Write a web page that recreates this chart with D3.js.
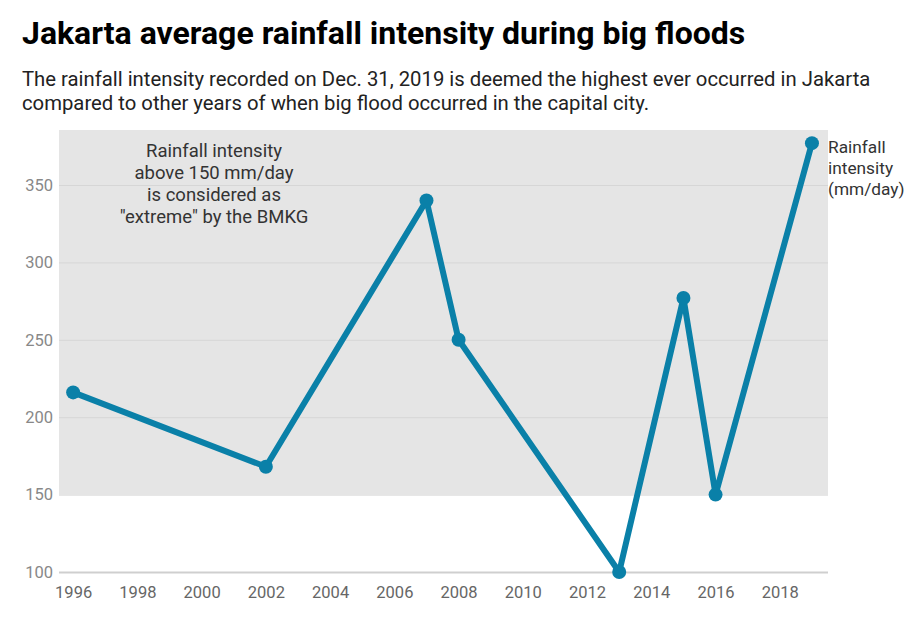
<!DOCTYPE html>
<html><head><meta charset="utf-8">
<script src="https://cdn.jsdelivr.net/npm/d3@7"></script>
<style>
body{margin:0;background:#fff;font-family:Roboto,"Noto Sans",sans-serif;}
</style></head>
<body>
<svg id="c" width="918" height="623"></svg>
<script>
const years = [1996, 2002, 2007, 2008, 2013, 2015, 2016, 2019];
const intensity = [216, 168, 340, 250, 100, 277, 150, 377];
const yTicks = [100, 150, 200, 250, 300, 350];
const xTicks = [1996, 1998, 2000, 2002, 2004, 2006, 2008, 2010, 2012, 2014, 2016, 2018];
const extremeThreshold = 150;
const title = "Jakarta average rainfall intensity during big floods";
const subtitle = ["The rainfall intensity recorded on Dec. 31, 2019 is deemed the highest ever occurred in Jakarta",
  "compared to other years of when big flood occurred in the capital city."];
const note = ["Rainfall intensity", "above 150 mm/day", "is considered as", "\"extreme\" by the BMKG"];
const seriesLabel = ["Rainfall", "intensity", "(mm/day)"];

const svg = d3.select("#c");
const mLeft = 59, mRight = 828, mTop = 130, mBottom = 572;
const x = d3.scaleLinear().domain([1995.56, 2019.5]).range([mLeft, mRight]);
const y = d3.scaleLinear().domain([100, 385.5]).range([mBottom, mTop]);

svg.append("text").attr("x", 22).attr("y", 44).attr("font-size", 32).attr("font-weight", 700)
  .attr("fill", "#000").text(title);
subtitle.forEach((s, i) => svg.append("text").attr("x", 22).attr("y", 86 + i * 24)
  .attr("font-size", 20.3).attr("fill", "#222").text(s));

// extreme band
svg.append("rect").attr("x", mLeft).attr("y", mTop).attr("width", mRight - mLeft)
  .attr("height", y(extremeThreshold) - mTop).attr("fill", "#e5e5e5");

// grid
const gy = svg.append("g").attr("transform", `translate(${mLeft},0)`)
  .call(d3.axisLeft(y).tickValues(yTicks).tickSize(-(mRight - mLeft)).tickPadding(6));
gy.select(".domain").remove();
gy.selectAll(".tick line").attr("stroke", (d) => d === 100 ? "#cfcfcf" : "#d6d6d6").attr("stroke-width", (d) => d === 100 ? 2 : 1);
gy.selectAll(".tick text").attr("font-size", 16.5).attr("fill", "#888").attr("font-family", "Roboto");

const gx = svg.append("g").attr("transform", `translate(0,${mBottom})`)
  .call(d3.axisBottom(x).tickValues(xTicks).tickFormat(d3.format("d")).tickSize(0).tickPadding(14));
gx.select(".domain").remove();
gx.selectAll(".tick text").attr("font-size", 16.5).attr("fill", "#666").attr("font-family", "Roboto");

const data = years.map((yr, i) => ({yr, v: intensity[i]}));
svg.append("path").datum(data)
  .attr("d", d3.line().x(d => x(d.yr)).y(d => y(d.v)))
  .attr("fill", "none").attr("stroke", "#0a80a8").attr("stroke-width", 6).attr("stroke-linejoin", "round");
svg.selectAll("circle.pt").data(data).enter().append("circle")
  .attr("cx", d => x(d.yr)).attr("cy", d => y(d.v)).attr("r", 7).attr("fill", "#0a80a8");

note.forEach((s, i) => svg.append("text").attr("x", 214).attr("y", 157 + i * 22)
  .attr("text-anchor", "middle").attr("font-size", 18.5).attr("fill", "#333").text(s));

seriesLabel.forEach((s, i) => svg.append("text").attr("x", 828).attr("y", 153 + i * 21)
  .attr("font-size", 17.3).attr("fill", "#333").text(s));
</script>
</body></html>
